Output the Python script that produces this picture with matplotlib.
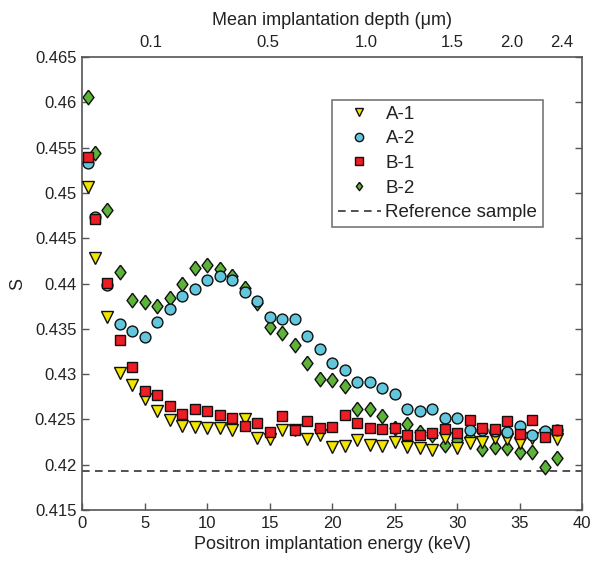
import matplotlib.pyplot as plt
import matplotlib.ticker as mticker

plt.rcParams['font.family'] = ['Liberation Sans', 'DejaVu Sans']

# positron energy (keV)
energy = [0.5] + list(range(1, 39))

s_a1 = [0.4507, 0.4428, 0.4363, 0.4301, 0.4288, 0.4273, 0.4259, 0.4249, 0.4243, 0.4242,
        0.4240, 0.4240, 0.4238, 0.4250, 0.4229, 0.4228, 0.4238, 0.4238, 0.4228, 0.4233,
        0.4219, 0.4221, 0.4227, 0.4222, 0.4221, 0.4225, 0.4220, 0.4218, 0.4216, 0.4230,
        0.4218, 0.4224, 0.4225, 0.4229, 0.4228, 0.4224, 0.4229, 0.4233, 0.4228]
s_a2 = [0.4533, 0.4473, 0.4398, 0.4355, 0.4348, 0.4341, 0.4358, 0.4372, 0.4386, 0.4394,
        0.4404, 0.4408, 0.4404, 0.4391, 0.4381, 0.4363, 0.4361, 0.4361, 0.4342, 0.4328,
        0.4312, 0.4305, 0.4291, 0.4291, 0.4285, 0.4278, 0.4261, 0.4259, 0.4261, 0.4252,
        0.4252, 0.4238, 0.4238, 0.4237, 0.4236, 0.4243, 0.4233, 0.4237, 0.4238]
s_b1 = [0.4540, 0.4471, 0.4401, 0.4338, 0.4308, 0.4281, 0.4277, 0.4265, 0.4256, 0.4262,
        0.4259, 0.4255, 0.4252, 0.4243, 0.4246, 0.4236, 0.4254, 0.4238, 0.4248, 0.4241,
        0.4242, 0.4255, 0.4246, 0.4241, 0.4239, 0.4240, 0.4233, 0.4233, 0.4235, 0.4239,
        0.4235, 0.4249, 0.4240, 0.4239, 0.4248, 0.4234, 0.4249, 0.4231, 0.4238]
s_b2 = [0.4606, 0.4544, 0.4481, 0.4413, 0.4382, 0.4380, 0.4375, 0.4384, 0.4400, 0.4417,
        0.4420, 0.4416, 0.4408, 0.4395, 0.4378, 0.4352, 0.4345, 0.4332, 0.4312, 0.4295,
        0.4294, 0.4287, 0.4262, 0.4261, 0.4254, 0.4240, 0.4245, 0.4236, 0.4233, 0.4222,
        0.4227, 0.4231, 0.4217, 0.4219, 0.4218, 0.4214, 0.4214, 0.4198, 0.4207]
s_ref = 0.4193

# top axis: mean implantation depth labels and their energy positions
depth_labels = ['0.1', '0.5', '1.0', '1.5', '2.0', '2.4']
depth_energy = [5.5, 14.9, 22.7, 29.6, 34.4, 38.4]

fig = plt.figure(figsize=(5.97, 5.62), dpi=100)
ax = fig.add_axes([0.1374, 0.0925, 0.8376, 0.8061])

frame = '#555555'
txt = '#222222'
diamond = [(0, 1), (0.75, 0), (0, -1), (-0.75, 0), (0, 1)]

h_ref, = ax.plot([0, 40], [s_ref, s_ref], color='#222222', lw=1.1, dashes=(5, 3.5),
                 label='Reference sample', zorder=1)
h_b2, = ax.plot(energy, s_b2, linestyle='none', marker=diamond, ms=10.5, mfc='#5cb338',
                mec='#111111', mew=1.0, label='B-2', zorder=2)
h_a1, = ax.plot(energy, s_a1, linestyle='none', marker='v', ms=9, mfc='#f2e600',
                mec='#111111', mew=1.0, label='A-1', zorder=3)
h_a2, = ax.plot(energy, s_a2, linestyle='none', marker='o', ms=7.8, mfc='#62c6dc',
                mec='#111111', mew=1.0, label='A-2', zorder=4)
h_b1, = ax.plot(energy, s_b1, linestyle='none', marker='s', ms=7, mfc='#ee1c24',
                mec='#111111', mew=1.0, label='B-1', zorder=5)

ax.set_xlim(0, 40)
ax.set_ylim(0.415, 0.465)
ax.set_xticks(range(0, 41, 5))
ax.yaxis.set_major_locator(mticker.MultipleLocator(0.005))
ax.yaxis.set_major_formatter(mticker.FuncFormatter(lambda v, p: ('%.3f' % v).rstrip('0')))
ax.tick_params(direction='in', length=5, width=1, colors=frame, labelcolor=txt,
               labelsize=12, top=False, right=True, pad=4)
for sp in ax.spines.values():
    sp.set_color(frame)
    sp.set_linewidth(1.2)

ax.set_xlabel('Positron implantation energy (keV)', fontsize=13, color=txt, labelpad=4)
ax.set_ylabel('S', fontsize=13, color=txt, labelpad=6)

top = ax.secondary_xaxis('top')
top.set_xticks(depth_energy)
top.set_xticklabels(depth_labels)
top.tick_params(length=0, labelsize=12, labelcolor=txt, pad=5)
top.spines['top'].set_visible(False)
top.set_xlabel('Mean implantation depth (μm)', fontsize=13, color=txt, labelpad=7)

leg = ax.legend(handles=[h_a1, h_a2, h_b1, h_b2, h_ref], loc='upper left',
                bbox_to_anchor=(0.5, 0.905), fontsize=13.5, frameon=True, fancybox=False,
                edgecolor=frame, borderpad=0.3, labelspacing=0.4, handlelength=2.3,
                handletextpad=0.25, borderaxespad=0)
leg.get_frame().set_linewidth(1.2)
for t in leg.get_texts():
    t.set_color(txt)
for lh in leg.legend_handles[:4]:
    lh.set_markersize(6)

fig.savefig('out.png', dpi=100)
